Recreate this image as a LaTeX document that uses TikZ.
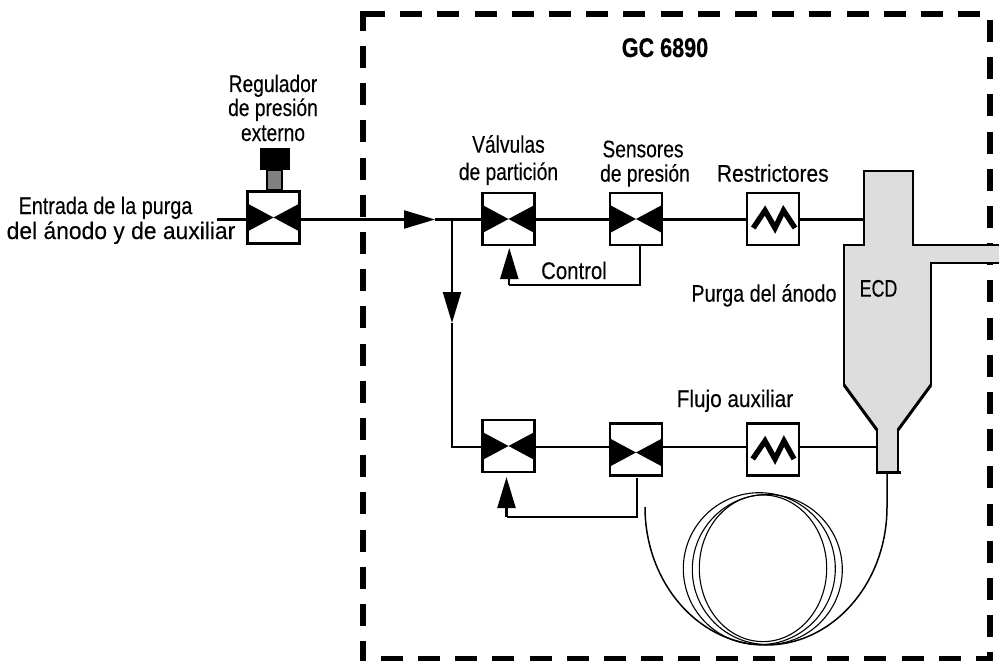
\documentclass[tikz,border=0pt]{standalone}
\usepackage{graphicx}
\usepackage{fontspec}
\setmainfont[FakeStretch=0.8,FakeBold=0.2]{Liberation Sans}
\usetikzlibrary{arrows.meta,calc}
\definecolor{ecdgray}{HTML}{DDDDDD}
\definecolor{stemgray}{HTML}{808080}
\newcommand{\hstr}[2]{\scalebox{#1}[1]{#2}}
\tikzset{
  x=1pt,y=-1pt,
  lbl/.style={inner sep=0pt,anchor=base,font=\fontsize{24}{24}\selectfont},
  boxb/.style={draw=black,line width=2.5pt,fill=white,minimum width=52pt,minimum height=52pt,inner sep=0pt,outer sep=0pt},
  valve/.style={boxb,path picture={
     \fill[black] (-27,#1-14.5)--(0,#1)--(-27,#1+14.5)--cycle;
     \fill[black] (27,#1-14.5)--(0,#1)--(27,#1+14.5)--cycle;}},
  valve/.default=0,
  wire/.style={draw=black,line width=2.2pt},
  flowtip/.style={-{Triangle[length=31pt,width=18pt]}},
  zig/.style={draw=black,line width=5.4pt},
  coilline/.style={draw=black,line width=1.1pt},
  frame/.style={draw=black,line width=6pt,dash pattern=on 22pt off 15.2pt}
}
\begin{document}
\begin{tikzpicture}
\useasboundingbox (0,0) rectangle (999,661);
% frame
\draw[frame] (363,14) -- (985,14);
\draw[frame,dash phase=2.2pt] (363,11) -- (363,661);
\draw[frame] (990,20) -- (990,661);
\draw[frame] (380.7,659) -- (993,659);
% regulator
\node[boxb,minimum width=15pt,minimum height=20pt,fill=stemgray] (stem) at (274.5,180) {};
\node[fill=black,minimum width=30pt,minimum height=22pt,inner sep=0pt,outer sep=0pt] (knob) at (274.5,159) {};
\node[valve] (reg) at (273.5,217.5) {};
% valves top
\node[valve] (v1) at (508.5,219) {};
\node[valve] (s1) at (636,219) {};
\node[boxb] (r1) at (773,219) {};
% valves bottom
\node[valve] (v2) at (508.5,446) {};
\node[valve=3] (s2) at (636,449.5) {};
\node[boxb] (r2) at (773,449.5) {};
% zigzags
\draw[zig] (753.3,228)--(765,210.5)--(775,228)--(783.5,210.5)--(795,228);
\draw[zig] (752.7,459)--(765,441)--(775,459)--(784,441)--(794,459);
% ECD
\fill[ecdgray] (864,245)--(864,171)--(913,171)--(913,245)--(999,245)--(999,263)--(931,263)--(931,385)--(898,430)--(898,472)--(877,472)--(877,430)--(844,385)--(844,245)--cycle;
\draw[line width=2.6pt] (864,245)--(864,171)--(913,171)--(913,245)--(999,245);
\draw[line width=2.6pt] (999,263)--(931,263)--(931,385);
\draw[line width=2.6pt] (844,385)--(844,245)--(865,245);
\draw[line width=3pt] (844,385)--(877,430);
\draw[line width=3pt] (931,385)--(898,430);
\draw[line width=2.6pt] (877,429)--(877,472);
\draw[line width=2.6pt] (898,429)--(898,472);
\draw[line width=3pt] (876,472)--(900.5,472);
\coordinate (ecdtop) at (864,219.5);
\coordinate (ecdneck) at (877,446.7);
\coordinate (ecdbot) at (887,473);
% connectors
\coordinate (inlet) at (217,219.5);
\coordinate (tipa) at (435,219.5);
\coordinate (junc) at (452,219.5);
\coordinate (tipb) at (452,323);
\coordinate (corn) at (452,446.7);
\draw[wire] (inlet) -- (reg.west |- inlet);
\draw[wire,flowtip] (reg.east |- inlet) -- (tipa);
\draw[wire] (tipa) -- (v1.west |- tipa);
\draw[wire,flowtip] (junc) -- (tipb);
\draw[wire] (tipb) -- (corn) -- (v2.west |- corn);
\draw[wire] (v1.east |- tipa) -- (s1.west |- tipa);
\draw[wire] (s1.east |- tipa) -- (r1.west |- tipa);
\draw[wire] (r1.east |- tipa) -- (ecdtop);
\draw[wire] (v2.east |- corn) -- (s2.west |- corn);
\draw[wire] (s2.east |- corn) -- (r2.west |- corn);
\draw[wire] (r2.east |- corn) -- (ecdneck);
% feedback
\coordinate (fb1a) at (640,285);
\coordinate (fb1b) at (509.3,285);
\coordinate (fb1t) at (509.3,248);
\draw[wire] (s1.south -| fb1a) -- (fb1a) -- (fb1b);
\draw[wire,flowtip] (fb1b) -- (fb1t);
\coordinate (fb2a) at (637,516.7);
\coordinate (fb2b) at (506.5,516.7);
\coordinate (fb2t) at (506.5,477);
\draw[wire] (s2.south -| fb2a) ++(0,2) -- (fb2a) -- (fb2b);
\draw[wire,flowtip] (fb2b) -- (fb2t);
% coil
\draw[coilline] (759.3,568.7) ellipse [x radius=76,y radius=76];
\draw[coilline] (767.3,569.5) ellipse [x radius=75,y radius=75];
\draw[coilline] (763,568.3) ellipse [x radius=63.7,y radius=73.3];
\draw[line width=1.5pt] (ecdbot) -- (887,507) .. controls (887,583) and (833,645) .. (766,645) .. controls (699,645) and (645,583) .. (645,507);
% labels
\node[lbl] (lreg1) at (273,92) {Regulador};
\node[lbl] (lreg2) at (273,116) {de presión};
\node[lbl] (lreg3) at (273,141) {externo};
\node[lbl] (lin1) at (105.5,214) {\hstr{1.03}{Entrada de la purga}};
\node[lbl] (lin2) at (121,239) {\hstr{1.19}{del ánodo y de auxiliar}};
\node[lbl,font=\fontsize{27}{27}\selectfont\bfseries] (lgc) at (665,57) {GC 6890};
\node[lbl] (lv1) at (508.5,152.7) {Válvulas};
\node[lbl] (lv2) at (508.5,180) {de partición};
\node[lbl] (ls1) at (643,157.3) {Sensores};
\node[lbl] (ls2) at (645,181.7) {de presión};
\node[lbl] (lr) at (772.8,181.7) {\hstr{1.09}{Restrictores}};
\node[lbl] (lc) at (574,279) {\hstr{1.06}{Control}};
\node[lbl] (lp) at (764,301.7) {\hstr{1.03}{Purga del ánodo}};
\node[lbl] (le) at (878.5,296.7) {\hstr{0.93}{ECD}};
\node[lbl] (lf) at (735,407) {\hstr{1.08}{Flujo auxiliar}};
\end{tikzpicture}
\end{document}
